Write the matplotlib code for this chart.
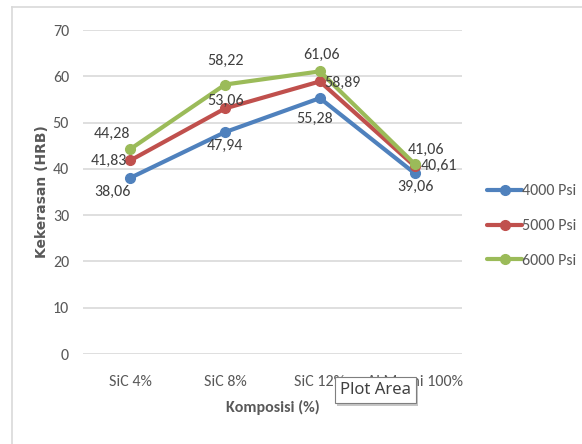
import matplotlib
matplotlib.use("Agg")
import matplotlib.pyplot as plt
from matplotlib.lines import Line2D
import matplotlib.patheffects as pe

plt.rcParams['font.family'] = ['Carlito', 'Liberation Sans Narrow', 'DejaVu Sans']

# Data
categories = ["SiC 4%", "SiC 8%", "SiC 12%", "Al Murni 100%"]
series_names = ["4000 Psi", "5000 Psi", "6000 Psi"]
psi_4000 = [38.06, 47.94, 55.28, 39.06]
psi_5000 = [41.83, 53.06, 58.89, 40.61]
psi_6000 = [44.28, 58.22, 61.06, 41.06]
y_ticks = [0, 10, 20, 30, 40, 50, 60, 70]

series_values = [psi_4000, psi_5000, psi_6000]
colors = ["#4F81BD", "#C0504D", "#9BBB59"]

# Data label offsets in pixels (dx, dy) from each point
label_offsets = [
    [(-18, -14), (0, -14), (-5, -21), (1, -14)],
    [(-21, -1), (0, 8), (23, -1), (24, 0)],
    [(-18, 15), (0, 24), (2, 16), (11, 14)],
]

W, H = 582, 444
fig = plt.figure(figsize=(W / 100, H / 100), dpi=100)
fig.patch.set_facecolor("white")

# Chart border
fig.add_artist(Line2D([12 / W, 12 / W], [0, 1 - 7 / H], transform=fig.transFigure,
                      color="#D9D9D9", lw=1.2))
fig.add_artist(Line2D([12 / W, 1], [1 - 7 / H, 1 - 7 / H], transform=fig.transFigure,
                      color="#D9D9D9", lw=1.2))

ax = fig.add_axes([83 / W, 1 - 354 / H, (462 - 83) / W, (354 - 30) / H])
x = list(range(len(categories)))

for name, vals, col, offs in zip(series_names, series_values, colors, label_offsets):
    ax.plot(x, vals, color=col, lw=3, marker="o", markersize=7,
            markerfacecolor=col, markeredgecolor=col, label=name,
            solid_capstyle="round", zorder=3)
    for xi, v, (dx, dy) in zip(x, vals, offs):
        ax.annotate(f"{v:.2f}".replace(".", ","), (xi, v), xytext=(dx, dy),
                    textcoords="offset pixels", ha="center", va="center",
                    fontsize=11.5, color="#404040", zorder=4)

ax.set_xlim(-0.5, len(categories) - 0.5)
ax.set_ylim(0, 70)
ax.set_yticks(y_ticks)
ax.set_xticks(x)
ax.set_xticklabels(categories)
ax.grid(axis="y", color="#D9D9D9", lw=1.2)
ax.set_axisbelow(True)
for s in ["top", "right", "left", "bottom"]:
    ax.spines[s].set_visible(False)
ax.tick_params(axis="both", length=0, labelsize=11.5, labelcolor="#595959")
ax.tick_params(axis="y", pad=10)
ax.tick_params(axis="x", pad=15)

ax.set_xlabel("Komposisi (%)", fontsize=11.5, fontweight="bold", color="#595959", labelpad=8)
ax.set_ylabel("Kekerasan (HRB)", fontsize=10, fontweight="bold", color="#595959",
              labelpad=3, family=["DejaVu Sans"])

handles, labels = ax.get_legend_handles_labels()
fig.legend(handles, labels, loc="center left", bbox_to_anchor=(487 / W, 1 - 226 / H),
           frameon=False, fontsize=11.5, labelcolor="#595959", borderpad=0,
           borderaxespad=0, handlelength=2.2, handletextpad=0.0, labelspacing=1.3)

# Hover tooltip
tip = fig.text(375 / W, 1 - 390 / H, "Plot Area", ha="center", va="center",
               fontsize=12, family=["Noto Sans", "DejaVu Sans"], color="#404040",
               bbox=dict(boxstyle="square,pad=0.3", facecolor="white",
                         edgecolor="#7F7F7F", lw=0.8,
                         path_effects=[pe.withSimplePatchShadow(offset=(2, -2),
                                                                 shadow_rgbFace="#A0A0A0",
                                                                 alpha=0.6)]),
               zorder=10)

fig.savefig("out.png", dpi=100, facecolor="white")
